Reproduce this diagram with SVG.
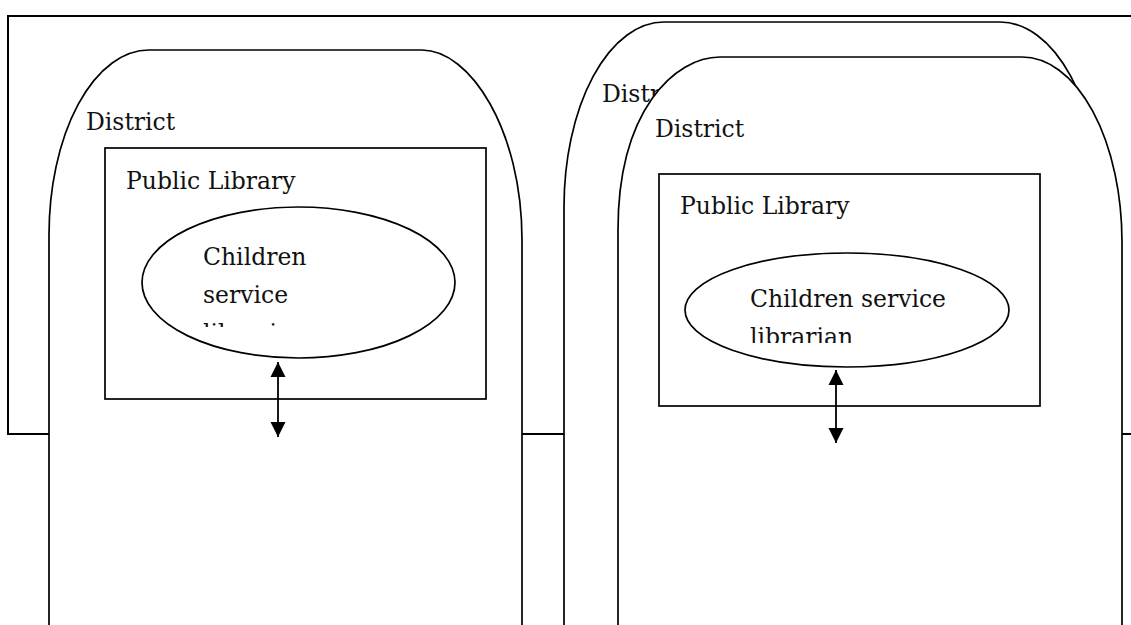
<svg xmlns="http://www.w3.org/2000/svg" width="1131" height="625" viewBox="0 0 1131 625">
<style>
.frame{fill:none;stroke:#000;stroke-width:2}
.dist{fill:#fff;stroke:#000;stroke-width:1.7}
.box{fill:#fff;stroke:#000;stroke-width:1.7}
.ell{fill:#fff;stroke:#000;stroke-width:1.7}
.t{font-family:"DejaVu Serif","Liberation Serif",serif;font-size:23.5px;fill:#111}
.arr{stroke:#000;stroke-width:1.8;fill:none}
</style>
<defs>
<marker id="ah" markerUnits="userSpaceOnUse" markerWidth="16" markerHeight="16" viewBox="0 0 16 16" refX="15" refY="8" orient="auto-start-reverse">
<path d="M0,0.5 L15,8 L0,15.5 Z" fill="#000"/>
</marker>
<clipPath id="clipL"><rect x="150" y="230" width="300" height="97"/></clipPath>
<clipPath id="clipR"><rect x="700" y="270" width="300" height="73"/></clipPath>
</defs>
<rect id="frame" class="frame" x="8" y="16" width="1140" height="418"/>
<g id="district-left">
<path class="dist" d="M49,640 L49,235 A100,185 0 0 1 149,50 L422,50 C470,50 522,130 522,240 L522,640 Z"/>
<text class="t" x="86" y="130">District</text>
</g>
<g id="district-back">
<path class="dist" d="M564,640 L564,207 A100,185 0 0 1 664,22 L1000,22 A100,185 0 0 1 1100,207 L1100,640 Z"/>
<text class="t" x="602" y="102">District</text>
</g>
<g id="district-right">
<path class="dist" d="M618,640 L618,230 C618,110 675,57 720,57 L1022,57 A100,185 0 0 1 1122,242 L1122,640 Z"/>
<text class="t" x="655" y="137">District</text>
</g>
<g id="library-left">
<rect class="box" x="105" y="148" width="381" height="251"/>
<text class="t" x="126" y="189">Public Library</text>
</g>
<g id="library-right">
<rect class="box" x="659" y="174" width="381" height="232"/>
<text class="t" x="680" y="214">Public Library</text>
</g>
<g id="librarian-left">
<ellipse class="ell" cx="298.5" cy="282.5" rx="156.5" ry="75.5"/>
<g clip-path="url(#clipL)">
<text class="t" x="203" y="265">Children</text>
<text class="t" x="203" y="303">service</text>
<text class="t" x="203" y="341">librarian</text>
</g>
</g>
<g id="librarian-right">
<ellipse class="ell" cx="847" cy="310" rx="162" ry="57"/>
<g clip-path="url(#clipR)">
<text class="t" x="750" y="307">Children service</text>
<text class="t" x="750" y="345">librarian</text>
</g>
</g>
<g id="connectors">
<line class="arr" x1="278" y1="362" x2="278" y2="437" marker-start="url(#ah)" marker-end="url(#ah)"/>
<line class="arr" x1="836" y1="370" x2="836" y2="443" marker-start="url(#ah)" marker-end="url(#ah)"/>
</g>
</svg>
